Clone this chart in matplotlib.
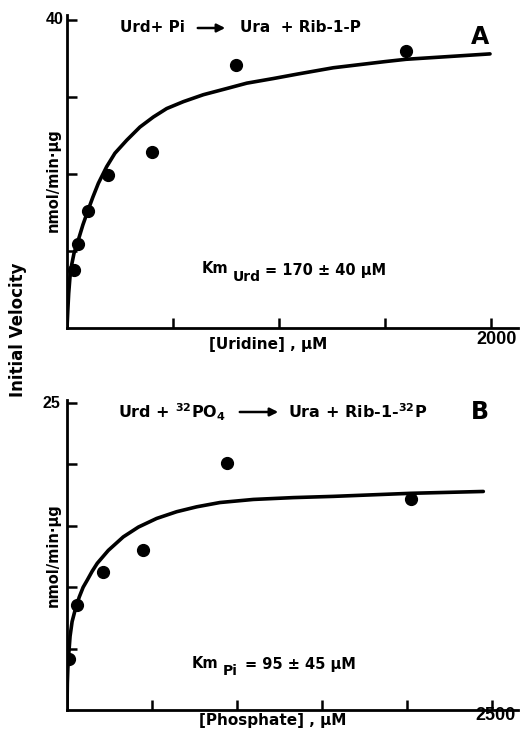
import matplotlib
matplotlib.use("Agg")
import matplotlib.pyplot as plt
from matplotlib.patches import FancyArrowPatch

plt.rcParams["font.family"] = ["DejaVu Sans"]
plt.rcParams["font.weight"] = "bold"
plt.rcParams["mathtext.default"] = "regular"

# Panel A: uridine saturation (points and the drawn fit)
uridine_um = [35, 50, 98, 195, 400, 796, 1600]
velocity_a = [7.5, 10.9, 15.2, 19.9, 22.9, 34.1, 36.0]
fit_a_x = [0, 4, 8, 14, 22, 33, 53, 75, 98, 122, 148, 187, 226, 282, 344, 407, 470, 549,
           643, 753, 848, 973, 1091, 1256, 1500, 1599, 1995]
fit_a_y = [0, 2.4, 4.5, 6.6, 8.2, 9.7, 11.4, 13.4, 15.2, 17.0, 18.8, 20.95, 22.7, 24.4, 26.1, 27.4, 28.5, 29.4,
           30.3, 31.1, 31.8, 32.4, 33.0, 33.8, 34.6, 34.9, 35.6]

# Panel B: phosphate saturation
phosphate_um = [12, 57, 214, 447, 939, 2022]
velocity_b = [4.15, 8.55, 11.2, 13.0, 20.1, 17.2]
fit_b_x = [0, 2, 5, 9, 18, 30, 47, 72, 95, 120, 148, 178, 243, 331, 420, 527, 645, 763, 900,
           1096, 1331, 1567, 2022, 2449]
fit_b_y = [0, 2.2, 3.4, 4.3, 6.0, 7.2, 8.1, 9.2, 10.0, 10.6, 11.3, 11.95, 13.0, 14.1, 14.9, 15.6, 16.15, 16.55, 16.9,
           17.15, 17.3, 17.4, 17.65, 17.8]

W, H = 527, 740
fig = plt.figure(figsize=(W / 100, H / 100), dpi=100)


def fx(x):
    return x / W


def fy(y):
    return 1 - y / H


def style_axes(ax, yticks, xticks):
    for side in ("top", "right"):
        ax.spines[side].set_visible(False)
    for side in ("left", "bottom"):
        ax.spines[side].set_linewidth(2.0)
    ax.set_yticks(yticks)
    ax.set_yticklabels([])
    ax.set_xticks(xticks)
    ax.set_xticklabels([])
    ax.tick_params(direction="in", length=7, width=1.8)


ax_a = fig.add_axes([fx(67), fy(328), (518 - 67) / W, (328 - 15.4) / H])
ax_a.plot(fit_a_x, fit_a_y, color="black", lw=2.6, solid_capstyle="round", solid_joinstyle="round")
ax_a.plot(uridine_um, velocity_a, "o", color="black", ms=8.5)
ax_a.set_xlim(0, 2127)
ax_a.set_ylim(0, 40.6)
style_axes(ax_a, [10, 20, 30, 40], [500, 1000, 1500, 2000])

ax_b = fig.add_axes([fx(67), fy(710), (518 - 67) / W, (710 - 400) / H])
ax_b.plot(fit_b_x, fit_b_y, color="black", lw=2.6, solid_capstyle="round", solid_joinstyle="round")
ax_b.plot(phosphate_um, velocity_b, "o", color="black", ms=8.5)
ax_b.set_xlim(0, 2653)
ax_b.set_ylim(0, 25.25)
style_axes(ax_b, [5, 10, 15, 20, 25], [500, 1000, 1500, 2000, 2500])

arrow = dict(arrowstyle="-|>", lw=1.8, color="black", mutation_scale=12, transform=None)
num = dict(family="Liberation Sans", weight="bold")

# Panel A texts
fig.text(fx(120), fy(28), "Urd+ Pi", fontsize=11, va="center", ha="left")
fig.add_artist(FancyArrowPatch((195, H - 28), (228, H - 28), **arrow))
fig.text(fx(240), fy(28), "Ura  + Rib-1-P", fontsize=11, va="center", ha="left")
fig.text(fx(480), fy(37), "A", fontsize=17, va="center", ha="center")
fig.text(fx(202), fy(268), "Km", fontsize=10.5, va="center", ha="left")
fig.text(fx(233), fy(277), "Urd", fontsize=10, va="center", ha="left")
fig.text(fx(265), fy(270), "= 170 ± 40 μM", fontsize=10.5, va="center", ha="left")
fig.text(fx(268), fy(345), "[Uridine] , μM", fontsize=11, va="center", ha="center")
fig.text(fx(55), fy(20), "40", fontsize=11.5, va="center", ha="center", **num)
fig.text(fx(497), fy(339), "2000", fontsize=13, va="center", ha="center", **num)
fig.text(fx(53), fy(180), "nmol/min·μg", fontsize=10.5, rotation=90, va="center", ha="center")

# Panel B texts
fig.text(fx(118), fy(412), r"Urd + $^{32}$PO$_4$", fontsize=11.5, va="center", ha="left")
fig.add_artist(FancyArrowPatch((237, H - 412), (281, H - 412), **arrow))
fig.text(fx(288), fy(412), r"Ura + Rib-1-$^{32}$P", fontsize=11.5, va="center", ha="left")
fig.text(fx(480), fy(412), "B", fontsize=17, va="center", ha="center")
fig.text(fx(192), fy(663), "Km", fontsize=10.5, va="center", ha="left")
fig.text(fx(223), fy(671), "Pi", fontsize=10, va="center", ha="left")
fig.text(fx(245), fy(664), "= 95 ± 45 μM", fontsize=10.5, va="center", ha="left")
fig.text(fx(273), fy(720), "[Phosphate] , μM", fontsize=11, va="center", ha="center")
fig.text(fx(51), fy(403), "25", fontsize=11.5, va="center", ha="center", **num)
fig.text(fx(496), fy(716), "2500", fontsize=13, va="center", ha="center", **num)
fig.text(fx(53), fy(555), "nmol/min·μg", fontsize=10.5, rotation=90, va="center", ha="center")

fig.text(fx(18), fy(330), "Initial Velocity", fontsize=12, rotation=90, va="center", ha="center")

fig.savefig("out.png", dpi=100)
